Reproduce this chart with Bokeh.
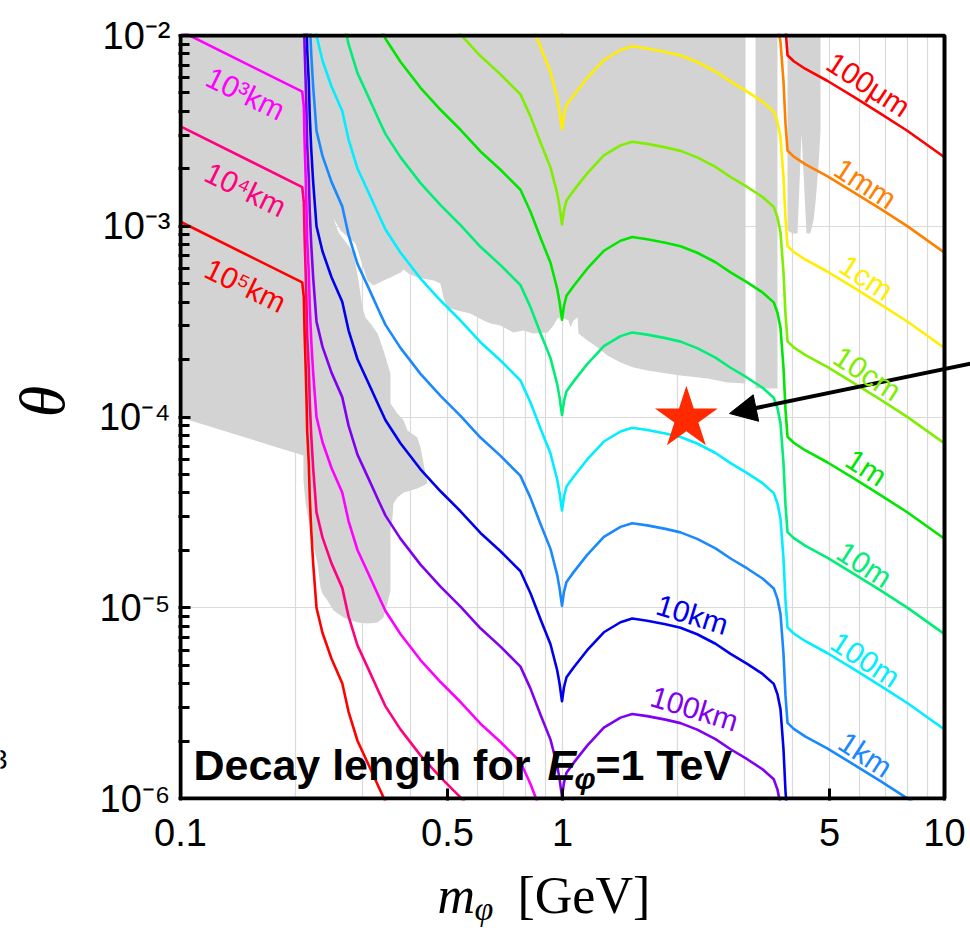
import math
from bokeh.plotting import figure
from bokeh.layouts import row, column
from bokeh.models import Range1d, FixedTicker, Label, Arrow, NormalHead, BoxAnnotation
from bokeh.embed import file_html
from bokeh.resources import INLINE

# ---------------- data ----------------
# Contour of decay length 100 m (E_phi = 1 TeV) in the (m_phi, theta) plane.
# Decay length scales as 1/theta^2, so every other contour is this curve scaled.
base_length = 100.0  # metres
base_m = [0.1, 0.2083, 0.2103, 0.2112, 0.2125, 0.2137, 0.2146, 0.2167, 0.2180, 0.2199,
          0.2225, 0.2270, 0.2353, 0.2485, 0.2651, 0.2754, 0.2906, 0.3115, 0.3309, 0.3441,
          0.3765, 0.4249, 0.4794, 0.5408, 0.6099, 0.6883, 0.7762, 0.8245, 0.8758, 0.9302,
          0.9685, 0.9821, 0.997, 1.009, 1.0245, 1.0705, 1.1606, 1.2831, 1.4186, 1.522,
          1.666, 1.860, 2.037, 2.252, 2.515, 2.754, 3.045, 3.339, 3.573, 3.654,
          3.721, 3.789, 3.835, 3.882, 4.031, 4.326, 4.931, 5.789, 6.8, 7.99, 10.0]
base_theta = [1.056, 0.5074, 0.4233, 0.2833, 0.1902, 0.1262, 0.0847, 0.0569, 0.0377, 0.02533,
              0.01701, 0.0100, 0.007394, 0.005402, 0.004020, 0.002849, 0.002008, 0.001485, 0.001138, 9.616e-4,
              7.285e-4, 5.322e-4, 4.080e-4, 3.205e-4, 2.467e-4, 1.978e-4, 1.553e-4, 1.191e-4, 8.70e-5, 6.436e-5,
              4.702e-5, 4.019e-5, 3.235e-5, 3.83e-5, 4.32e-5, 4.876e-5, 5.988e-5, 7.439e-5, 8.395e-5, 8.777e-5,
              8.546e-5, 8.193e-5, 7.855e-5, 7.262e-5, 6.475e-5, 5.731e-5, 5.08e-5, 4.501e-5, 3.99e-5, 3.52e-5,
              2.937e-5, 1.812e-5, 1.091e-5, 7.88e-6, 7.33e-6, 6.677e-6, 5.791e-6, 4.762e-6, 3.898e-6, 3.167e-6, 2.3e-6]

lengths = [1e-4, 1e-3, 1e-2, 0.1, 1.0, 10.0, 100.0, 1e3, 1e4, 1e5, 1e6, 1e7, 1e8]
length_labels = ["100μm", "1mm", "1cm", "10cm", "1m", "10m", "100m", "1km", "10km", "100km",
                 "10³km", "10⁴km", "10⁵km"]
colors = ["#ff0000", "#ff8000", "#ffee00", "#7fee00", "#00e600", "#00ee77", "#00eeff",
          "#1a88ff", "#0000ee", "#8000f0", "#ff00ff", "#ff0080", "#ff0000"]

# excluded (gray) regions
gray1_m = [0.1, 3.013, 3.013, 2.704, 2.397, 2.037, 1.805, 1.669, 1.534, 1.419, 1.311, 1.235, 1.163,
           1.101, 1.095, 1.069, 1.049, 1.037, 1.006, 0.988, 0.970, 0.947, 0.914, 0.839, 0.790, 0.744,
           0.688, 0.648, 0.621, 0.574, 0.531, 0.500, 0.488, 0.479, 0.460, 0.417, 0.395, 0.384, 0.377,
           0.3545, 0.340, 0.320, 0.3087, 0.2995, 0.2871, 0.2623, 0.2515, 0.2593, 0.2837, 0.2924, 0.2995,
           0.3050, 0.3144, 0.3280, 0.340, 0.3481, 0.3545, 0.3545, 0.3698, 0.384, 0.3928, 0.417, 0.4249,
           0.4326, 0.4431, 0.417, 0.384, 0.3698, 0.3610, 0.3589, 0.3545, 0.3545, 0.3481, 0.340, 0.3280,
           0.3087, 0.2906, 0.2672, 0.2515, 0.2425, 0.2353, 0.2325, 0.2284, 0.2189, 0.2125, 0.2099,
           0.2099, 0.1]
gray1_theta = [1e-2, 1e-2, 1.498e-4, 1.516e-4, 1.591e-4, 1.650e-4, 1.711e-4, 1.753e-4, 1.818e-4,
               1.930e-4, 2.101e-4, 2.314e-4, 2.518e-4, 2.740e-4, 3.323e-4, 3.205e-4, 2.945e-4, 3.205e-4,
               3.283e-4, 3.323e-4, 3.283e-4, 3.017e-4, 2.773e-4, 2.740e-4, 2.841e-4, 2.773e-4, 3.017e-4,
               3.091e-4, 3.205e-4, 3.487e-4, 3.617e-4, 3.750e-4, 4.231e-4, 5.010e-4, 5.195e-4, 5.386e-4,
               5.652e-4, 5.932e-4, 5.721e-4, 5.386e-4, 5.195e-4, 4.891e-4, 5.195e-4, 6.225e-4, 8.119e-4,
               9.500e-4, 1.098e-3, 9.273e-4, 7.285e-4, 5.195e-4, 3.750e-4, 3.323e-4, 3.091e-4, 2.740e-4,
               2.231e-4, 1.907e-4, 1.690e-4, 1.177e-4, 1.043e-4, 9.585e-5, 8.495e-5, 7.808e-5, 6.918e-5,
               5.705e-5, 4.479e-5, 4.216e-5, 4.019e-5, 3.784e-5, 3.520e-5, 2.972e-5, 2.541e-5, 1.231e-5,
               1.052e-5, 8.890e-6, 8.371e-6, 8.270e-6, 8.371e-6, 8.890e-6, 9.674e-6, 1.091e-5, 1.188e-5,
               1.277e-5, 1.706e-5, 2.541e-5, 3.520e-5, 4.645e-5, 6.284e-5, 9.940e-5]
gray2_m = [3.201, 3.654, 3.654, 3.201]
gray2_theta = [1e-2, 1e-2, 1.411e-4, 1.411e-4]
gray3_m = [3.882, 4.736, 4.736, 4.68, 4.60, 4.54, 4.45, 4.352, 4.224, 4.123, 4.00, 3.882]
gray3_theta = [1e-2, 1e-2, 3.18e-3, 2.08e-3, 1.36e-3, 1.07e-3, 9.16e-4, 9.16e-4, 3.063e-3, 9.16e-4,
               9.16e-4, 9.5e-4]

star_m = [2.11]
star_theta = [9.8e-5]

x_min, x_max = 0.1, 10.0
y_min, y_max = 1e-6, 1e-2
x_tick_values = [0.1, 0.5, 1, 5, 10]
x_tick_labels = ["0.1", "0.5", "1", "5", "10"]
y_tick_values = [1e-2, 1e-3, 1e-4, 1e-5, 1e-6]
y_tick_labels = ["10⁻²", "10⁻³", "10⁻⁴", "10⁻⁵", "10⁻⁶"]
x_grid_values = [0.2, 0.3, 0.4, 0.5, 0.6, 0.7, 0.8, 0.9, 1, 2, 3, 4, 5, 6, 7, 8, 9]
y_grid_values = [1e-5, 1e-4, 1e-3]

# ---------------- layout geometry (pixels) ----------------
FL, FT, DX, DY = 180, 35, 382.0, 190.75   # data-box left/top px, px per decade
A_W, TOP_H = 85, 863
FRAME_TOP, FRAME_BOTTOM = 33, 800          # main frame (2 px outside the data box)


def mx(px):
    return 10 ** ((px - FL) / DX - 1)


def ty(py):
    return 10 ** (-2 - (py - FT) / DY)


def add_label(fig, text, x, y, size, color="black", font="Liberation Sans", style="normal",
              align="left", baseline="middle", angle=0.0):
    fig.add_layout(Label(x=x, y=y, text=text, text_font=font, text_font_size=f"{size}px",
                         text_font_style=style, text_color=color, text_align=align,
                         text_baseline=baseline, angle=angle))


# ---------------- main panel ----------------
p = figure(x_axis_type="log", y_axis_type="log",
           x_range=Range1d(mx(178), mx(970)), y_range=Range1d(ty(FRAME_BOTTOM), ty(FRAME_TOP)),
           frame_width=792, frame_height=FRAME_BOTTOM - FRAME_TOP, title_location=None,
           min_border_left=178 - A_W, min_border_right=0, min_border_top=FRAME_TOP,
           min_border_bottom=TOP_H - FRAME_BOTTOM,
           output_backend="svg", toolbar_location=None)
p.background_fill_color = "white"
p.border_fill_color = "white"
p.outline_line_color = None

p.xgrid.ticker = FixedTicker(ticks=x_grid_values)
p.ygrid.ticker = FixedTicker(ticks=y_grid_values)
for g in (p.xgrid[0], p.ygrid[0]):
    g.grid_line_color = "#dadada"
    g.grid_line_width = 1.2
# keep the strip right of the data box clean
p.add_layout(BoxAnnotation(left=x_max, right=mx(1000), bottom=ty(900), top=ty(0),
                           fill_color="white", fill_alpha=1.0, line_alpha=0.0, level="underlay"))

p.xaxis.ticker = FixedTicker(ticks=x_tick_values, minor_ticks=[])
p.yaxis.ticker = FixedTicker(ticks=y_tick_values,
                             minor_ticks=[k * 10.0 ** e for e in range(-6, -2) for k in range(2, 10)])
p.xaxis.major_label_overrides = {v: t for v, t in zip(x_tick_values, x_tick_labels)}
p.yaxis.major_label_overrides = {v: t for v, t in zip(y_tick_values, y_tick_labels)}
for ax in (p.xaxis[0], p.yaxis[0]):
    ax.axis_line_color = None
    ax.major_tick_out = 0
    ax.minor_tick_out = 0
    ax.major_tick_in = 12
    ax.minor_tick_in = 11
    ax.major_tick_line_width = 3
    ax.minor_tick_line_width = 3
    ax.major_tick_line_color = "black"
    ax.minor_tick_line_color = "black"
    ax.major_label_text_font = "Liberation Sans"
    ax.major_label_text_font_size = "38px"
    ax.major_label_text_color = "black"
p.xaxis.major_label_standoff = 18
p.yaxis.major_label_standoff = 8

# gray excluded regions
p.patches([gray1_m, gray2_m, gray3_m], [gray1_theta, gray2_theta, gray3_theta],
          fill_color="#d3d3d3", line_color=None)

# decay length contours
for L, c in zip(lengths, colors):
    th = [t * math.sqrt(base_length / L) for t in base_theta]
    p.line(base_m, th, line_color=c, line_width=2.6, line_join="round")

# benchmark star
p.scatter(star_m, star_theta, marker="star", size=66, fill_color="#ff2a00", line_color=None)

# arrow pointing at the star
p.add_layout(Arrow(end=NormalHead(size=27, fill_color="black", line_color="black", line_width=1),
                   x_start=mx(985), y_start=ty(360), x_end=mx(729), y_end=ty(413),
                   line_color="black", line_width=4))

# contour labels
label_pos = [(868, 84, -33), (865, 183, -33), (866, 277, -33), (867, 373, -33), (866, 467, -33),
             (864, 564, -33), (865, 659, -33), (865, 754, -33), (692, 614, -17), (694, 708, -17),
             (245, 93, -26), (245, 189, -26), (245, 285, -26)]
for t, c, (px, py, a) in zip(length_labels, colors, label_pos):
    add_label(p, t, mx(px), ty(py), 30, color=c, align="center", angle=math.radians(a))

# caption inside the box
add_label(p, "Decay length for ", mx(193), ty(764), 43, style="bold")
add_label(p, "E", mx(547), ty(764), 43, style="bold italic")
add_label(p, "φ", mx(574), ty(778), 30, style="bold italic")
add_label(p, "=1 TeV", mx(595), ty(764), 43, style="bold")

# frame of the data box
p.add_layout(BoxAnnotation(left=x_min, right=x_max, bottom=y_min, top=y_max,
                           fill_alpha=0.0, line_color="black", line_alpha=1.0, line_width=4,
                           level="overlay"))

# ---------------- left strip: y title (its frame is aligned with the main frame) ----------------
left = figure(width=A_W, height=TOP_H, x_range=Range1d(0, A_W),
              y_range=Range1d(FRAME_BOTTOM, FRAME_TOP),
              x_axis_type=None, y_axis_type=None, min_border=0, outline_line_color=None,
              title_location=None, output_backend="svg", toolbar_location=None)
add_label(left, "θ", 42, 401, 64, font="Liberation Serif", style="italic", align="center",
          angle=math.pi / 2)
add_label(left, "3", 7, 759, 28, align="right")   # cut-off character of a neighbouring panel

# ---------------- bottom strip: x title ----------------
bottom = figure(width=970, height=928 - TOP_H, x_range=Range1d(0, 970), y_range=Range1d(928, TOP_H),
                x_axis_type=None, y_axis_type=None, min_border=0, outline_line_color=None,
                title_location=None, output_backend="svg", toolbar_location=None)
add_label(bottom, "m", 437, 895, 52, font="Liberation Serif", style="italic")
add_label(bottom, "φ", 474, 908, 34, font="Liberation Serif", style="italic")
add_label(bottom, "[GeV]", 517, 895, 52, font="Liberation Serif")

layout = column(row(left, p, spacing=0), bottom, spacing=0)
open("out.html", "w").write(file_html(layout, INLINE))
